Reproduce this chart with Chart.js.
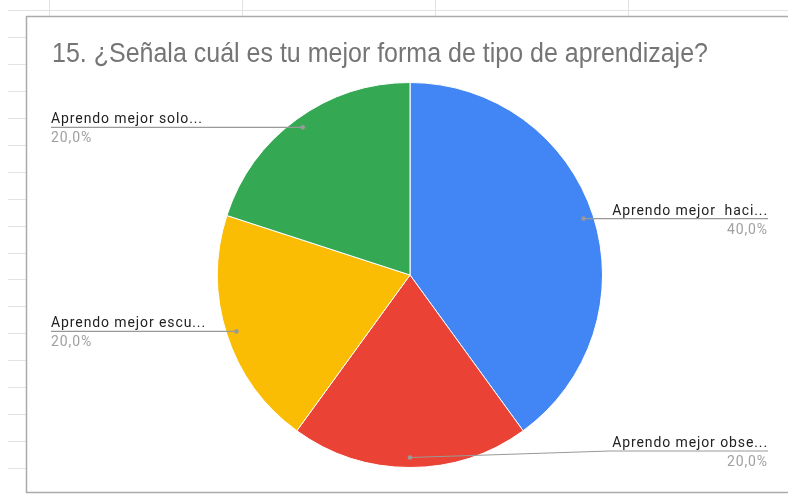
<!DOCTYPE html>
<html>
<head>
<meta charset="utf-8">
<script src="https://cdn.jsdelivr.net/npm/chart.js@4"></script>
<style>
  html, body { margin: 0; padding: 0; background: #fff; }
  #wrap { position: relative; width: 788px; height: 494px; }
</style>
</head>
<body>
<div id="wrap"><canvas id="myChart"></canvas></div>
<script>
const chartTitle = '15. ¿Señala cuál es tu mejor forma de tipo de aprendizaje?';
const sliceLabels = ['Aprendo mejor  haci...', 'Aprendo mejor obse...', 'Aprendo mejor escu...', 'Aprendo mejor solo...'];
const sliceValues = [40, 20, 20, 20];
const sliceColors = ['#4285f4', '#ea4335', '#fbbc04', '#34a853'];

// spreadsheet grid + chart frame behind the chart
const sheetBackground = {
    id: 'sheetBackground',
    beforeDraw(chart) {
        const ctx = chart.ctx;
        ctx.save();
        ctx.strokeStyle = '#e2e2e2';
        ctx.lineWidth = 1;
        // top row line
        ctx.beginPath();
        ctx.moveTo(8, 10.5); ctx.lineTo(788, 10.5);
        ctx.stroke();
        // column lines above frame
        [49, 242, 435, 628].forEach(x => {
            ctx.beginPath();
            ctx.moveTo(x + 0.5, 0); ctx.lineTo(x + 0.5, 16);
            ctx.stroke();
        });
        // row lines left of frame
        for (let y = 37; y < 494; y += 26.94) {
            ctx.beginPath();
            ctx.moveTo(8, Math.round(y) + 0.5); ctx.lineTo(26, Math.round(y) + 0.5);
            ctx.stroke();
        }
        // frame
        ctx.fillStyle = '#fff';
        ctx.fillRect(26, 16, 800, 476);
        ctx.strokeStyle = '#aaaaaa';
        ctx.lineWidth = 1.5;
        ctx.strokeRect(26.5, 16.5, 800, 476);
        ctx.restore();
    }
};

// title + google style outside labels
const pieLabels = {
    id: 'pieLabels',
    afterDraw(chart) {
        const ctx = chart.ctx;
        ctx.save();
        // title, a bit stretched vertically like the screenshot
        ctx.save();
        ctx.translate(52, 62);
        ctx.scale(1, 1.1);
        ctx.font = '25px "Liberation Sans", Arial, sans-serif';
        ctx.fillStyle = '#757575';
        ctx.textAlign = 'left';
        ctx.textBaseline = 'alphabetic';
        ctx.fillText(chartTitle, 0, 0);
        ctx.restore();

        const meta = chart.getDatasetMeta(0);
        const area = chart.chartArea;
        const total = sliceValues.reduce((a, b) => a + b, 0);
        meta.data.forEach((arc, i) => {
            const mid = (arc.startAngle + arc.endAngle) / 2;
            const r = arc.outerRadius * 0.948;
            const px = arc.x + Math.cos(mid) * r;
            const py = arc.y + Math.sin(mid) * r;
            const right = Math.cos(mid) >= -0.001;
            const lineY = Math.min(py, area.bottom - 17);
            const endX = right ? 768 : 51;
            const kneeX = right ? 610 : px;

            ctx.strokeStyle = '#999999';
            ctx.lineWidth = 1.2;
            ctx.beginPath();
            ctx.moveTo(px, py);
            ctx.lineTo(kneeX, lineY);
            ctx.lineTo(endX, lineY);
            ctx.stroke();
            ctx.fillStyle = '#999999';
            ctx.beginPath();
            ctx.arc(px, py, 2.3, 0, Math.PI * 2);
            ctx.fill();

            ctx.textAlign = right ? 'right' : 'left';
            ctx.font = '14px Roboto, sans-serif';
            ctx.letterSpacing = '0.9px';
            ctx.fillStyle = '#222';
            ctx.fillText(sliceLabels[i], endX, lineY - 4);
            ctx.fillStyle = '#a0a0a0';
            const pct = (sliceValues[i] / total * 100).toFixed(1).replace('.', ',') + '%';
            ctx.fillText(pct, endX, lineY + 15);
            ctx.letterSpacing = '0px';
        });
        ctx.restore();
    }
};

const ctx1 = document.getElementById('myChart').getContext('2d');
const myChart = new Chart(ctx1, {
    type: 'pie',
    data: {
        labels: sliceLabels,
        datasets: [{
            data: sliceValues,
            backgroundColor: sliceColors,
            borderColor: '#ffffff',
            borderWidth: 1
        }]
    },
    options: {
        responsive: true,
        maintainAspectRatio: false,
        animation: false,
        layout: {
            padding: { top: 82, bottom: 26, left: 217, right: 185 }
        },
        plugins: {
            legend: { display: false },
            title: { display: false },
            tooltip: { enabled: false }
        }
    },
    plugins: [sheetBackground, pieLabels]
});
</script>
</body>
</html>
